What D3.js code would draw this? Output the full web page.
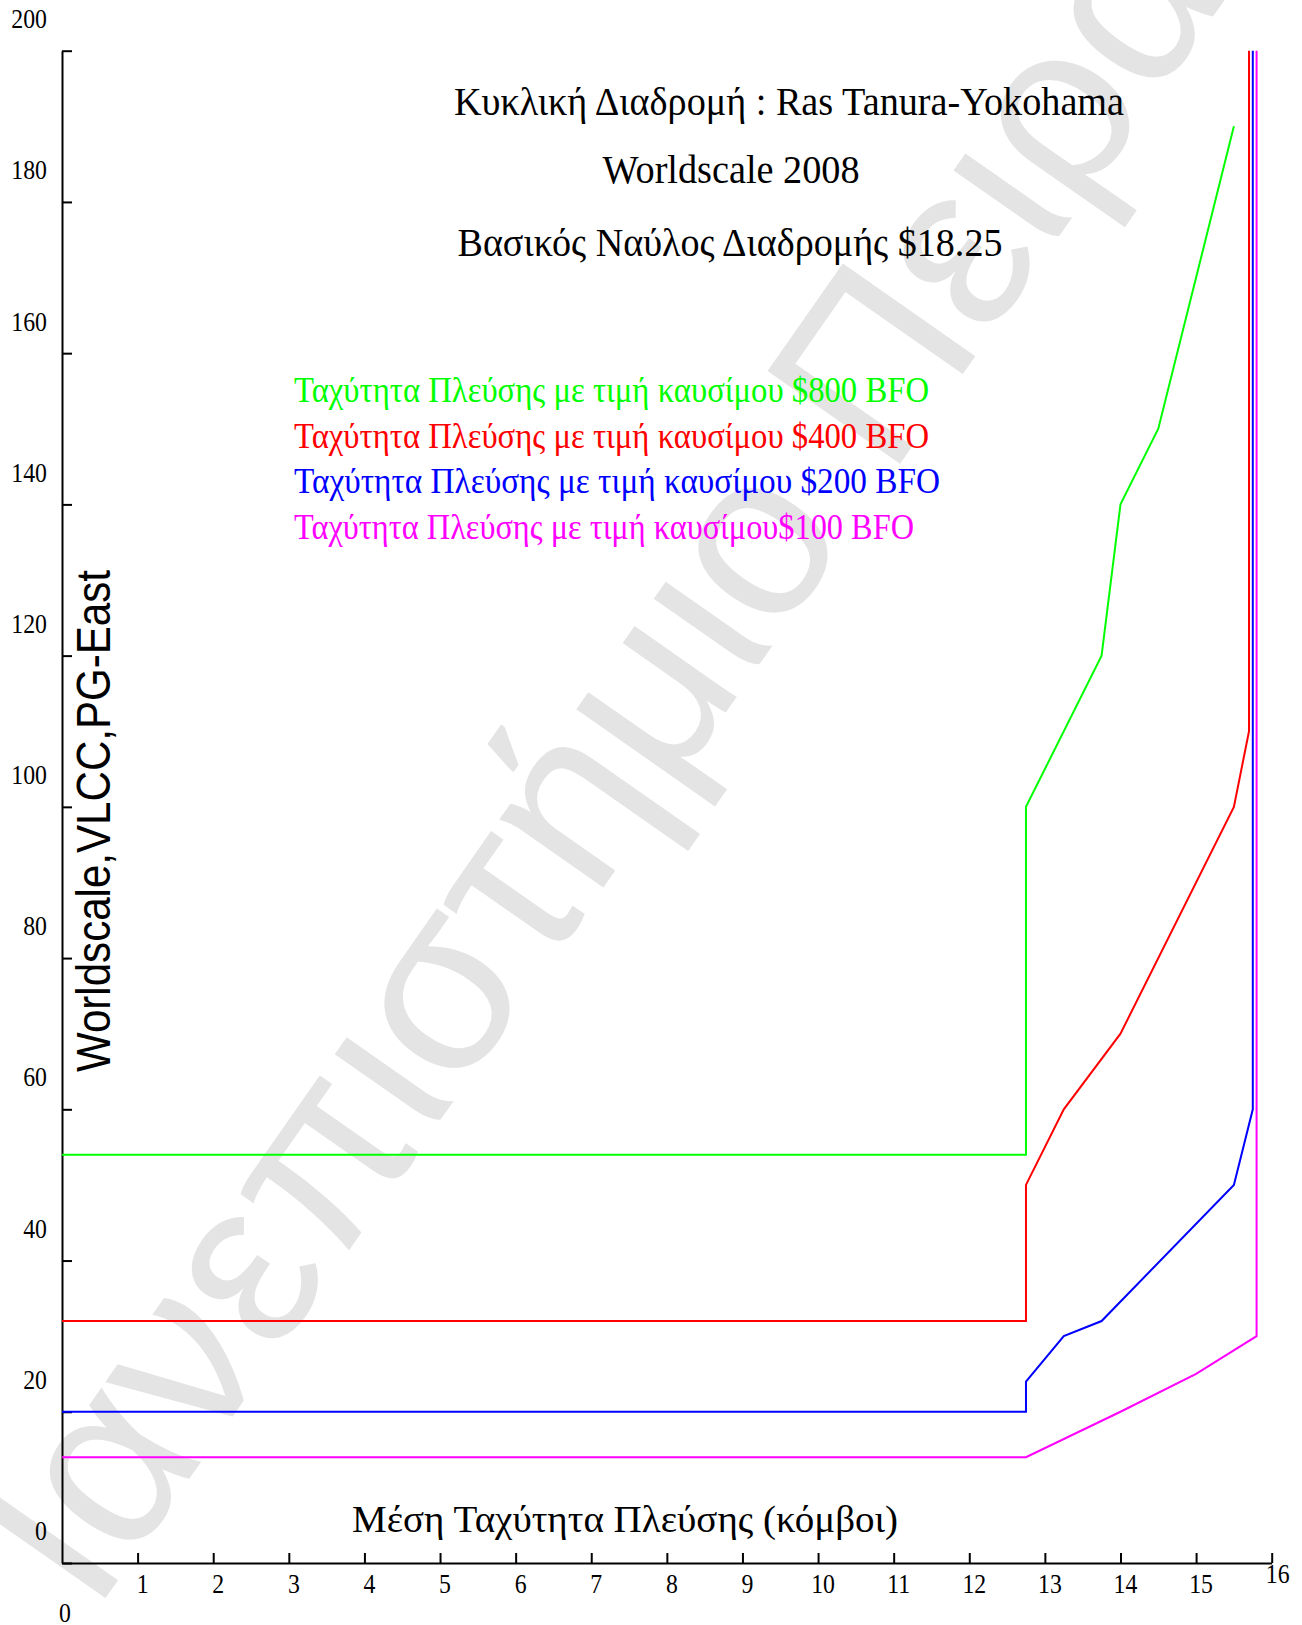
<!DOCTYPE html>
<html>
<head>
<meta charset="utf-8">
<script src="https://cdn.jsdelivr.net/npm/d3@7"></script>
<style>
  html, body { margin: 0; padding: 0; background: #fff; }
  svg { display: block; }
</style>
</head>
<body>
<svg id="chart" width="1302" height="1625"></svg>
<script>
// Break-even Worldscale vs. average sailing speed, VLCC Ras Tanura – Yokohama, for four bunker prices.

const speedTicks = d3.range(1, 16);          // x tick labels 1..15
const wsTicks = d3.range(0, 201, 20);        // y tick labels 0..200

const titleLines = [
  "Κυκλική Διαδρομή : Ras Tanura-Yokohama",
  "Worldscale 2008",
  "Βασικός Ναύλος Διαδρομής $18.25"
];

const legendLabels = [
  "Ταχύτητα Πλεύσης με τιμή καυσίμου $800 BFO",
  "Ταχύτητα Πλεύσης με τιμή καυσίμου $400 BFO",
  "Ταχύτητα Πλεύσης με τιμή καυσίμου $200 BFO",
  "Ταχύτητα Πλεύσης με τιμή καυσίμου$100 BFO"
];

// speed (knots) / Worldscale pairs per bunker price
const speed800 = [0, 12.75, 12.75, 13.75, 14, 14.5, 15.5];
const ws800    = [54, 54, 100, 120, 140, 150, 190];

const speed400 = [0, 12.75, 12.75, 13.25, 14, 15.5, 15.7, 15.7];
const ws400    = [32, 32, 50, 60, 70, 100, 110, 200];

const speed200 = [0, 12.75, 12.75, 13.25, 13.75, 15.5, 15.75, 15.75];
const ws200    = [20, 20, 24, 30, 32, 50, 60, 200];

const speed100 = [0, 12.75, 14, 15, 15.8, 15.8];
const ws100    = [14, 14, 20, 25, 30, 200];

const seriesColors = ["#00ff00", "#ff0000", "#0000ff", "#ff00ff"];

const series = [
  { xs: speed800, ys: ws800 },
  { xs: speed400, ys: ws400 },
  { xs: speed200, ys: ws200 },
  { xs: speed100, ys: ws100 }
].map((s, i) => ({
  label: legendLabels[i],
  color: seriesColors[i],
  points: s.xs.map((v, j) => ({ speed: v, ws: s.ys[j] }))
}));

const SERIF = "'Liberation Serif', 'Times New Roman', serif";
const SANS = "'Liberation Sans', Arial, sans-serif";

const svg = d3.select("#chart");
svg.append("rect").attr("width", 1302).attr("height", 1625).attr("fill", "#fff");

// narrow the glyphs of a text selection to a share of their natural width
function condense(sel, f) {
  sel.each(function () {
    const L = this.getComputedTextLength();
    d3.select(this).attr("textLength", L * f).attr("lengthAdjust", "spacingAndGlyphs");
  });
}

// background watermark, laid out so that its "ο" (char 11) is centred on an anchor point
const wmSize = 235;
const wm = svg.append("text")
  .text("Πανεπιστήμιο Πειραιά")
  .attr("x", 0).attr("y", 0)
  .style("font-family", SANS)
  .style("font-size", wmSize + "px")
  .attr("fill", "#e4e4e4");
{
  const ext = wm.node().getExtentOfChar(11);
  const cx = ext.x + ext.width / 2;
  const cy = -0.27 * wmSize;
  wm.attr("transform", `translate(762,550) rotate(-55) translate(${-cx},${-cy})`);
}

const x = d3.scaleLinear().domain([0, 16]).range([62, 1271.7]);
const y = d3.scaleLinear().domain([0, 200]).range([1563, 50.7]);
// tick labels sit a little above their ticks
const yLabel = d3.scaleLinear().domain([0, 200]).range([1540, 28.3]);

// axes
const yAxis = svg.append("g")
  .attr("transform", `translate(${x(0)},0)`)
  .call(d3.axisLeft(y).tickValues(wsTicks).tickSize(-10).tickSizeOuter(0).tickFormat(""));
const xAxis = svg.append("g")
  .attr("transform", `translate(0,${y(0)})`)
  .call(d3.axisBottom(x).tickValues(d3.range(1, 17)).tickSize(-10).tickSizeOuter(0).tickFormat(""));
[yAxis, xAxis].forEach(g => {
  g.selectAll("path, line").attr("stroke", "#000").attr("stroke-width", 2);
});

// y tick labels
const yt = svg.append("g").selectAll("text").data(wsTicks).join("text")
  .attr("x", x(0) - 15)
  .attr("y", d => yLabel(d))
  .attr("text-anchor", "end")
  .style("font-family", SERIF).style("font-size", "27px").attr("fill", "#000")
  .text(d => d);
condense(yt, 0.88);

// x tick labels
const xt = svg.append("g").selectAll("text").data(speedTicks).join("text")
  .attr("x", d => x(d) + 5)
  .attr("y", y(0) + 30)
  .attr("text-anchor", "middle")
  .style("font-family", SERIF).style("font-size", "27px").attr("fill", "#000")
  .text(d => d);
condense(xt, 0.88);

const x16 = svg.append("text")
  .attr("x", x(16) + 6).attr("y", y(0) + 20)
  .attr("text-anchor", "middle")
  .style("font-family", SERIF).style("font-size", "27px").attr("fill", "#000")
  .text(16);
condense(x16, 0.88);

const x0 = svg.append("text")
  .attr("x", x(0) + 3).attr("y", y(0) + 58.7)
  .attr("text-anchor", "middle")
  .style("font-family", SERIF).style("font-size", "27px").attr("fill", "#000")
  .text(0);
condense(x0, 0.88);

// curves
const line = d3.line().x(d => x(d.speed)).y(d => y(d.ws));
svg.append("g").selectAll("path").data(series).join("path")
  .attr("d", d => line(d.points))
  .attr("fill", "none")
  .attr("stroke", d => d.color)
  .attr("stroke-width", 2)
  .attr("stroke-linejoin", "miter");

// titles
const titleCfg = [
  { cx: 789, base: 115, w: 670 },
  { cx: 731, base: 182.5, w: 257 },
  { cx: 730, base: 255.5, w: 545 }
];
svg.append("g").selectAll("text").data(titleLines).join("text")
  .attr("x", (d, i) => titleCfg[i].cx)
  .attr("y", (d, i) => titleCfg[i].base)
  .attr("text-anchor", "middle")
  .attr("textLength", (d, i) => titleCfg[i].w)
  .attr("lengthAdjust", "spacingAndGlyphs")
  .style("font-family", SERIF).style("font-size", "40px").attr("fill", "#000")
  .text(d => d);

// legend
const legendBase = [401.8, 447.8, 492.5, 538.5];
const legendW = [635, 635, 646, 620];
svg.append("g").selectAll("text").data(series).join("text")
  .attr("x", 294)
  .attr("y", (d, i) => legendBase[i])
  .attr("textLength", (d, i) => legendW[i])
  .attr("lengthAdjust", "spacingAndGlyphs")
  .style("font-family", SERIF).style("font-size", "35px")
  .attr("fill", d => d.color)
  .text(d => d.label);

// axis titles
svg.append("text")
  .attr("transform", "translate(110,821) rotate(-90)")
  .attr("text-anchor", "middle")
  .attr("textLength", 502)
  .attr("lengthAdjust", "spacingAndGlyphs")
  .style("font-family", SANS).style("font-size", "48px").attr("fill", "#000")
  .text("Worldscale,VLCC,PG-East");

svg.append("text")
  .attr("x", 352).attr("y", 1531.5)
  .attr("textLength", 546)
  .attr("lengthAdjust", "spacingAndGlyphs")
  .style("font-family", SERIF).style("font-size", "38px").attr("fill", "#000")
  .text("Μέση Ταχύτητα Πλεύσης (κόμβοι)");
</script>
</body>
</html>
